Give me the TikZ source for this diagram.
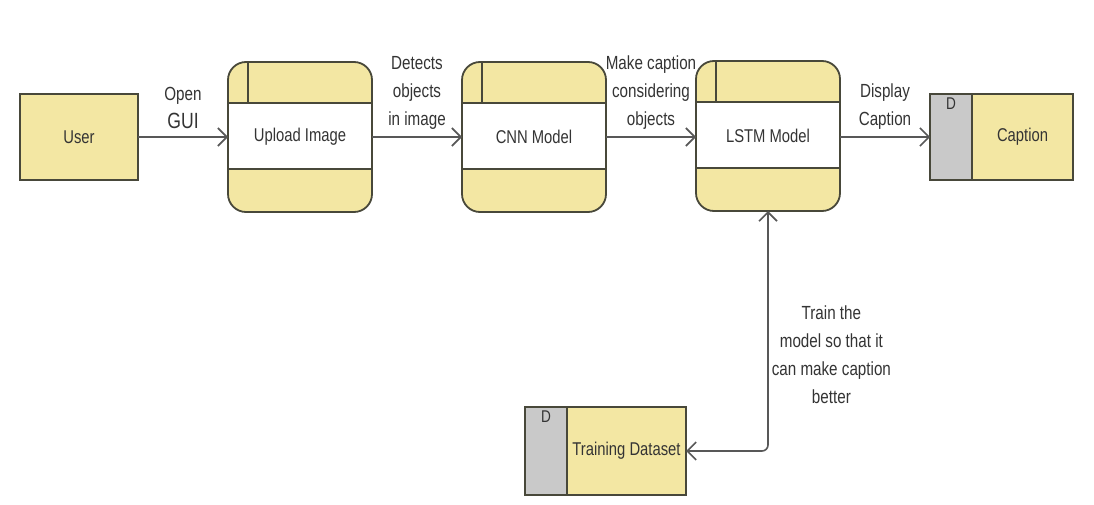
\documentclass[tikz,border=0pt]{standalone}
\usepackage{fontspec}
\setmainfont{Liberation Sans}[FakeStretch=0.8]
\usetikzlibrary{arrows.meta,positioning}
\definecolor{boxfill}{RGB}{243,231,163}
\definecolor{boxline}{RGB}{72,72,58}
\definecolor{dfill}{RGB}{201,201,201}
\definecolor{flowline}{RGB}{88,88,88}
\definecolor{txt}{RGB}{52,52,52}
\tikzstyle{entity}=[draw=boxline,line width=1.8pt,fill=boxfill,outer sep=0pt,inner sep=2pt,text=txt,font=\fontsize{18.5}{20}\selectfont]
\tikzstyle{process}=[entity,rounded corners=18pt,minimum width=144pt,minimum height=150pt,
  path picture={
    \fill[white,sharp corners] ([yshift=34pt]path picture bounding box.west) rectangle ([yshift=-32pt]path picture bounding box.east);
    \draw[boxline,line width=1.8pt] ([yshift=34pt]path picture bounding box.west) -- ([yshift=34pt]path picture bounding box.east);
    \draw[boxline,line width=1.8pt] ([yshift=-32pt]path picture bounding box.west) -- ([yshift=-32pt]path picture bounding box.east);
    \draw[boxline,line width=1.8pt] ([xshift=20pt]path picture bounding box.north west) -- ([xshift=20pt,yshift=34pt]path picture bounding box.west);
  }]
\tikzstyle{dbox}=[entity,fill=dfill,minimum width=42pt]
\tikzstyle{dletter}=[anchor=north,yshift=-2pt,inner sep=2pt,text=txt,font=\fontsize{17}{18}\selectfont]
\tikzstyle{flow}=[draw=flowline,line width=1.6pt,->]
\tikzstyle{lbl}=[text=txt,align=center,inner sep=3pt,font=\fontsize{19}{28}\selectfont]

\begin{document}
\begin{tikzpicture}[x=1pt,y=-1pt,>={Straight Barb[length=9pt,width=18pt]}]
  \useasboundingbox (0,0) rectangle (1094,505);
  \fill[white] (0,0) rectangle (1094,505);

  % external entity and processes
  \node[entity,minimum width=118pt,minimum height=86pt] (user) at (79,137) {User};
  \foreach \place/\name/\txt in {{(300,137)/upload/Upload Image}, {(534,137)/cnn/CNN Model}, {(768,136)/lstm/LSTM Model}}
    \node[process] (\name) at \place {\txt};

  % data stores
  \node[entity,minimum width=101pt,minimum height=86pt] (caption) at (1022.5,137) {Caption};
  \node[dbox,minimum height=86pt,left=0pt of caption,label={[dletter,name=captiondl]north:D}] (captiond) {};
  \node[entity,minimum width=119pt,minimum height=88pt] (trainset) at (626.5,451) {Training Dataset};
  \node[dbox,minimum height=88pt,left=0pt of trainset,label={[dletter,name=trainsetdl]north:D}] (trainsetd) {};

  % data flows
  \foreach \source/\dest/\txt in {user/upload/{Open\\{\fontsize{22}{24}\selectfont GUI}},
      upload/cnn/{Detects\\objects\\in image}, cnn/lstm/{Make caption\\considering\\objects},
      lstm/captiond/{Display\\Caption}}
    \draw[flow] (\source.east |- user) -- node[lbl,above,yshift=4pt] (lbl\source) {\txt} (\dest.west |- user);

  \draw[flow,<->,rounded corners=6pt] (lstm.south) |- node[lbl,right,pos=0.3] (lbltrain) {Train the\\model so that it\\can make caption\\better} (trainset.east);
\end{tikzpicture}
\end{document}
